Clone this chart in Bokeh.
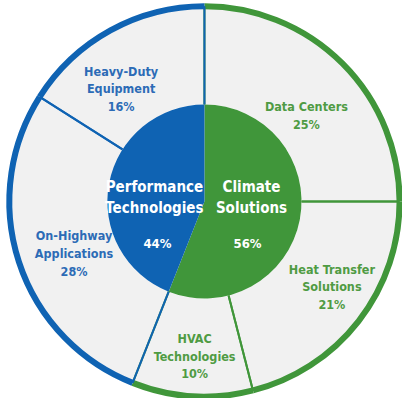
import math
from bokeh.plotting import figure
from bokeh.models import Range1d
from bokeh.core.properties import value
from bokeh.embed import file_html
from bokeh.resources import INLINE

# ---- data ----
groups = ["Climate\nSolutions", "Performance\nTechnologies"]
group_pct = [56, 44]
segments = ["Data Centers", "Heat Transfer\nSolutions", "HVAC\nTechnologies",
            "On-Highway\nApplications", "Heavy-Duty\nEquipment"]
segment_pct = [25, 21, 10, 28, 16]
segment_group = [0, 0, 0, 1, 1]

# ---- style ----
GREEN = "#40963a"
BLUE = "#0f63b3"
GREEN_TXT = "#4f9b43"
BLUE_TXT = "#2c6bb6"
RING_FILL = "#f1f1f1"
group_colors = [GREEN, BLUE]
group_txt = [GREEN_TXT, BLUE_TXT]
FONT = value("DejaVu Sans Condensed, Roboto Condensed, Roboto")

W, H = 402, 398
SX, SY = W / 410, H / 406

def fx(px):
    return px * SX
def fy(py):
    return H - py * SY

cx, cy = fx(208), fy(205)
r_in, r_out = 99 * SX, 199 * SX

p = figure(width=W, height=H, output_backend="svg", toolbar_location=None,
           x_range=Range1d(0, W), y_range=Range1d(0, H), min_border=0,
           outline_line_color=None, background_fill_color="white")
p.axis.visible = False
p.grid.visible = False

def ang(frac):
    return math.pi / 2 - frac * 2 * math.pi

# outer ring segments
total = sum(segment_pct)
cum = 0
seg_angles = []
for pct in segment_pct:
    seg_angles.append((cum / total, (cum + pct) / total))
    cum += pct

p.annular_wedge(x=cx, y=cy, inner_radius=r_in, outer_radius=r_out,
                start_angle=[ang(a) for a, b in seg_angles],
                end_angle=[ang(b) for a, b in seg_angles], direction="clock",
                fill_color=RING_FILL, line_color=None)

# inner pie
gt = sum(group_pct)
g_cum = 0
g_angles = []
for pct in group_pct:
    g_angles.append((g_cum / gt, (g_cum + pct) / gt))
    g_cum += pct
p.wedge(x=cx, y=cy, radius=r_in,
        start_angle=[ang(a) for a, b in g_angles],
        end_angle=[ang(b) for a, b in g_angles],
        direction="clock", fill_color=group_colors, line_color=None)

# separators and outer arcs, green first then blue overlays
for g in (0, 1):
    for i, (a, b) in enumerate(seg_angles):
        if segment_group[i] != g:
            continue
        col = group_colors[g]
        for f in (a, b):
            t = ang(f)
            p.segment(x0=cx + r_in * math.cos(t), y0=cy + r_in * math.sin(t),
                      x1=cx + r_out * math.cos(t), y1=cy + r_out * math.sin(t),
                      line_color=col, line_width=2)
        p.arc(x=cx, y=cy, radius=r_out, start_angle=ang(a), end_angle=ang(b),
              direction="clock", line_color=col, line_width=6)

# labels (reference px positions)
seg_label_pos = [(312, 108), (338, 274), (198, 345), (75, 240), (123, 72)]
for i, name in enumerate(segments):
    lines = name.split("\n") + [f"{segment_pct[i]}%"]
    px, py = seg_label_pos[i]
    for k, ln in enumerate(lines):
        p.text(x=[fx(px)], y=[fy(py + 18 * k)], text=[ln], text_font=FONT,
               text_font_size="12.5px", text_font_style="bold",
               text_color=group_txt[segment_group[i]],
               text_align="center", text_baseline="middle")

grp_label_pos = [(256, 190, 252, 248), (157, 190, 160, 248)]
for g, name in enumerate(groups):
    x0, y0, xp, yp = grp_label_pos[g]
    for k, ln in enumerate(name.split("\n")):
        p.text(x=[fx(x0)], y=[fy(y0 + 22 * k)], text=[ln], text_font=FONT,
               text_font_size="15px", text_font_style="bold",
               text_color="white", text_align="center", text_baseline="middle")
    p.text(x=[fx(xp)], y=[fy(yp)], text=[f"{group_pct[g]}%"], text_font=FONT,
           text_font_size="13px", text_font_style="bold",
           text_color="white", text_align="center", text_baseline="middle")

open("out.html", "w").write(file_html(p, INLINE))
